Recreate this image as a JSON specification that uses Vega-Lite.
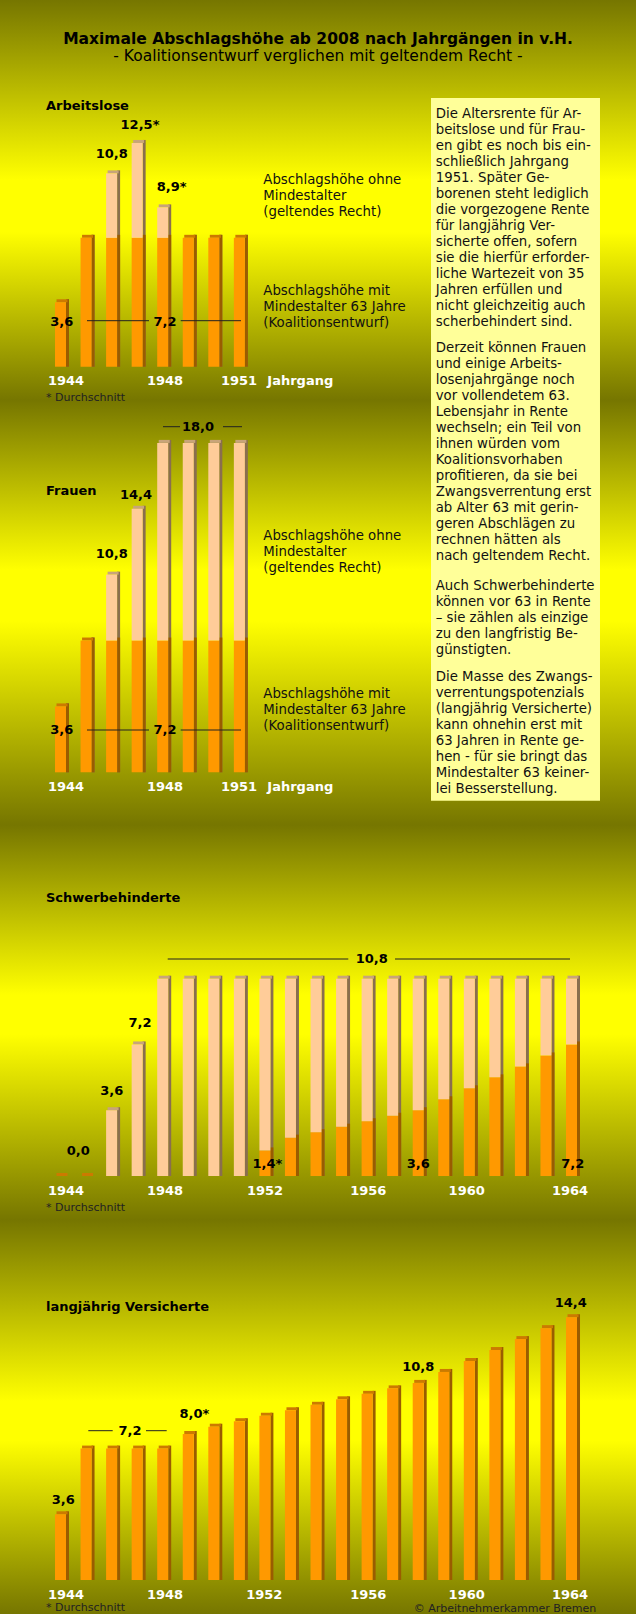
{
"$schema":"https://vega.github.io/schema/vega-lite/v6.json",
"padding":0,"spacing":0,"bounds":"flush","background":"#767600",
"config":{"font":"DejaVu Sans","view":{"stroke":null},"axis":{"disable":true},"concat":{"spacing":0},"scale":{"continuousPadding":0}},
"datasets":{
"arbeitslose":[{"jahrgang":1944,"mit":3.6,"ohne":3.6},{"jahrgang":1945,"mit":7.2,"ohne":7.2},{"jahrgang":1946,"mit":7.2,"ohne":10.8},{"jahrgang":1947,"mit":7.2,"ohne":12.5},{"jahrgang":1948,"mit":7.2,"ohne":8.9},{"jahrgang":1949,"mit":7.2,"ohne":7.2},{"jahrgang":1950,"mit":7.2,"ohne":7.2},{"jahrgang":1951,"mit":7.2,"ohne":7.2}],
"frauen":[{"jahrgang":1944,"mit":3.6,"ohne":3.6},{"jahrgang":1945,"mit":7.2,"ohne":7.2},{"jahrgang":1946,"mit":7.2,"ohne":10.8},{"jahrgang":1947,"mit":7.2,"ohne":14.4},{"jahrgang":1948,"mit":7.2,"ohne":18.0},{"jahrgang":1949,"mit":7.2,"ohne":18.0},{"jahrgang":1950,"mit":7.2,"ohne":18.0},{"jahrgang":1951,"mit":7.2,"ohne":18.0}],
"schwerbehinderte":[{"jahrgang":1944,"mit":0,"ohne":0},{"jahrgang":1945,"mit":0,"ohne":0},{"jahrgang":1946,"mit":0,"ohne":3.6},{"jahrgang":1947,"mit":0,"ohne":7.2},{"jahrgang":1948,"mit":0,"ohne":10.8},{"jahrgang":1949,"mit":0,"ohne":10.8},{"jahrgang":1950,"mit":0,"ohne":10.8},{"jahrgang":1951,"mit":0,"ohne":10.8},{"jahrgang":1952,"mit":1.4,"ohne":10.8},{"jahrgang":1953,"mit":2.1,"ohne":10.8},{"jahrgang":1954,"mit":2.4,"ohne":10.8},{"jahrgang":1955,"mit":2.7,"ohne":10.8},{"jahrgang":1956,"mit":3.0,"ohne":10.8},{"jahrgang":1957,"mit":3.3,"ohne":10.8},{"jahrgang":1958,"mit":3.6,"ohne":10.8},{"jahrgang":1959,"mit":4.2,"ohne":10.8},{"jahrgang":1960,"mit":4.8,"ohne":10.8},{"jahrgang":1961,"mit":5.4,"ohne":10.8},{"jahrgang":1962,"mit":6.0,"ohne":10.8},{"jahrgang":1963,"mit":6.6,"ohne":10.8},{"jahrgang":1964,"mit":7.2,"ohne":10.8}],
"versicherte":[{"jahrgang":1944,"mit":3.6,"ohne":3.6},{"jahrgang":1945,"mit":7.2,"ohne":7.2},{"jahrgang":1946,"mit":7.2,"ohne":7.2},{"jahrgang":1947,"mit":7.2,"ohne":7.2},{"jahrgang":1948,"mit":7.2,"ohne":7.2},{"jahrgang":1949,"mit":8.0,"ohne":8.0},{"jahrgang":1950,"mit":8.4,"ohne":8.4},{"jahrgang":1951,"mit":8.7,"ohne":8.7},{"jahrgang":1952,"mit":9.0,"ohne":9.0},{"jahrgang":1953,"mit":9.3,"ohne":9.3},{"jahrgang":1954,"mit":9.6,"ohne":9.6},{"jahrgang":1955,"mit":9.9,"ohne":9.9},{"jahrgang":1956,"mit":10.2,"ohne":10.2},{"jahrgang":1957,"mit":10.5,"ohne":10.5},{"jahrgang":1958,"mit":10.8,"ohne":10.8},{"jahrgang":1959,"mit":11.4,"ohne":11.4},{"jahrgang":1960,"mit":12.0,"ohne":12.0},{"jahrgang":1961,"mit":12.6,"ohne":12.6},{"jahrgang":1962,"mit":13.2,"ohne":13.2},{"jahrgang":1963,"mit":13.8,"ohne":13.8},{"jahrgang":1964,"mit":14.4,"ohne":14.4}]
},
"vconcat":[
{"width":636,"height":400,"data":{"name":"arbeitslose"},"layer":[
{"data":{"values":[{}]},"mark":{"type":"rect","fill":{"gradient":"linear","x1":0,"y1":0,"x2":0,"y2":1,"stops":[{"offset":0,"color":"#767600"},{"offset":0.45,"color":"#FFFF00"},{"offset":0.58,"color":"#FFFF00"},{"offset":1,"color":"#767600"}]}},"encoding":{"x":{"datum":1941.632,"type":"quantitative","scale":{"domain":[1941.632,1966.524],"nice":false,"zero":false,"padding":0}},"x2":{"datum":1966.524},"y":{"datum":20.486,"type":"quantitative","scale":{"domain":[-1.86,20.486],"nice":false,"zero":false,"padding":0}},"y2":{"datum":-1.86}}},
{"data":{"values":[{}]},"mark":{"type":"rect","fill":"#FFFF99"},"encoding":{"x":{"datum":1958.501},"x2":{"datum":1965.115},"y":{"datum":15.011},"y2":{"datum":-2}}},
{"transform":[{"filter":"datum.ohne > 0"}],"mark":{"type":"bar","size":3,"xOffset":7,"yOffset":-3,"color":"#8A6E4E"},"encoding":{"x":{"field":"jahrgang","type":"quantitative"},"y":{"field":"ohne","type":"quantitative"},"y2":{"datum":0}}},
{"transform":[{"filter":"datum.mit > 0"}],"mark":{"type":"bar","size":3,"xOffset":7,"yOffset":-3,"color":"#9A5C00"},"encoding":{"x":{"field":"jahrgang","type":"quantitative"},"y":{"field":"mit","type":"quantitative"},"y2":{"datum":0}}},
{"mark":{"type":"bar","size":11,"xOffset":1.5,"yOffset":-3},"encoding":{"x":{"field":"jahrgang","type":"quantitative"},"y":{"field":"ohne","type":"quantitative"},"y2":{"field":"ohne"},"color":{"condition":{"test":"datum.ohne > datum.mit","value":"#C8A47A"},"value":"#CC7A00"}}},
{"transform":[{"filter":"datum.mit > 0"}],"mark":{"type":"bar","size":11,"color":"#FF9900"},"encoding":{"x":{"field":"jahrgang","type":"quantitative","scale":{"domain":[1941.632,1966.524],"nice":false,"zero":false,"padding":0}},"y":{"field":"mit","type":"quantitative","scale":{"domain":[-1.86,20.486],"nice":false,"zero":false,"padding":0}},"y2":{"datum":0}}},
{"transform":[{"filter":"datum.ohne > datum.mit"}],"mark":{"type":"bar","size":11,"color":"#FFCC99"},"encoding":{"x":{"field":"jahrgang","type":"quantitative"},"y":{"field":"ohne","type":"quantitative"},"y2":{"field":"mit"}}},
{"data":{"values":[{}]},"mark":{"type":"rule","color":"#222222","strokeWidth":1},"encoding":{"x":{"datum":1945.037},"x2":{"datum":1947.464},"y":{"datum":2.57}}},
{"data":{"values":[{}]},"mark":{"type":"rule","color":"#222222","strokeWidth":1},"encoding":{"x":{"datum":1948.704},"x2":{"datum":1951.064},"y":{"datum":2.57}}},
{"data":{"values":[{}]},"mark":{"type":"text","fontSize":15.5,"fontWeight":"bold","align":"center","baseline":"middle","color":"#000000"},"encoding":{"x":{"datum":1954.078},"y":{"datum":18.335},"text":{"value":"Maximale Abschlagshöhe ab 2008 nach Jahrgängen in v.H."}}},
{"data":{"values":[{}]},"mark":{"type":"text","fontSize":15.5,"align":"center","baseline":"middle","color":"#000000"},"encoding":{"x":{"datum":1954.078},"y":{"datum":17.358},"text":{"value":"- Koalitionsentwurf verglichen mit geltendem Recht -"}}},
{"data":{"values":[{}]},"mark":{"type":"text","fontSize":13,"fontWeight":"bold","align":"left","baseline":"middle","color":"#000000"},"encoding":{"x":{"datum":1943.432},"y":{"datum":14.564},"text":{"value":"Arbeitslose"}}},
{"data":{"values":[{}]},"mark":{"type":"text","fontSize":13,"fontWeight":"bold","align":"center","baseline":"middle","color":"#000000"},"encoding":{"x":{"datum":1947.111},"y":{"datum":13.503},"text":{"value":"12,5*"}}},
{"data":{"values":[{}]},"mark":{"type":"text","fontSize":13,"fontWeight":"bold","align":"center","baseline":"middle","color":"#000000"},"encoding":{"x":{"datum":1946.004},"y":{"datum":11.883},"text":{"value":"10,8"}}},
{"data":{"values":[{}]},"mark":{"type":"text","fontSize":13,"fontWeight":"bold","align":"center","baseline":"middle","color":"#000000"},"encoding":{"x":{"datum":1948.352},"y":{"datum":10.056},"text":{"value":"8,9*"}}},
{"data":{"values":[{}]},"mark":{"type":"text","fontSize":13,"fontWeight":"bold","align":"center","baseline":"middle","color":"#000000"},"encoding":{"x":{"datum":1944.047},"y":{"datum":2.514},"text":{"value":"3,6"}}},
{"data":{"values":[{}]},"mark":{"type":"text","fontSize":13,"fontWeight":"bold","align":"center","baseline":"middle","color":"#000000"},"encoding":{"x":{"datum":1948.09},"y":{"datum":2.514},"text":{"value":"7,2"}}},
{"data":{"values":[{}]},"mark":{"type":"text","fontSize":13,"fontWeight":"bold","align":"center","baseline":"middle","color":"#FFFFFF"},"encoding":{"x":{"datum":1944.215},"y":{"datum":-0.782},"text":{"value":"1944"}}},
{"data":{"values":[{}]},"mark":{"type":"text","fontSize":13,"fontWeight":"bold","align":"center","baseline":"middle","color":"#FFFFFF"},"encoding":{"x":{"datum":1948.09},"y":{"datum":-0.782},"text":{"value":"1948"}}},
{"data":{"values":[{}]},"mark":{"type":"text","fontSize":13,"fontWeight":"bold","align":"center","baseline":"middle","color":"#FFFFFF"},"encoding":{"x":{"datum":1950.986},"y":{"datum":-0.782},"text":{"value":"1951"}}},
{"data":{"values":[{}]},"mark":{"type":"text","fontSize":13,"fontWeight":"bold","align":"left","baseline":"middle","color":"#FFFFFF"},"encoding":{"x":{"datum":1952.094},"y":{"datum":-0.782},"text":{"value":"Jahrgang"}}},
{"data":{"values":[{}]},"mark":{"type":"text","fontSize":13.3,"lineHeight":16,"align":"left","baseline":"alphabetic","color":"#111111"},"encoding":{"x":{"datum":1951.937},"y":{"datum":10.201},"text":{"value":["Abschlagshöhe ohne","Mindestalter","(geltendes Recht)"]}}},
{"data":{"values":[{}]},"mark":{"type":"text","fontSize":13.3,"lineHeight":16,"align":"left","baseline":"alphabetic","color":"#111111"},"encoding":{"x":{"datum":1951.937},"y":{"datum":3.978},"text":{"value":["Abschlagshöhe mit","Mindestalter 63 Jahre","(Koalitionsentwurf)"]}}},
{"data":{"values":[{}]},"mark":{"type":"text","fontSize":13.3,"lineHeight":16,"align":"left","baseline":"alphabetic","color":"#111111"},"encoding":{"x":{"datum":1958.685},"y":{"datum":13.888},"text":{"value":["Die Altersrente für Ar-","beitslose und für Frau-","en gibt es noch bis ein-","schließlich Jahrgang","1951. Später Ge-","borenen steht lediglich","die vorgezogene Rente","für langjährig Ver-","sicherte offen, sofern","sie die hierfür erforder-","liche Wartezeit von 35","Jahren erfüllen und","nicht gleichzeitig auch","scherbehindert sind."]}}},
{"data":{"values":[{}]},"mark":{"type":"text","fontSize":13.3,"lineHeight":16,"align":"left","baseline":"alphabetic","color":"#111111"},"encoding":{"x":{"datum":1958.685},"y":{"datum":0.799},"text":{"value":["Derzeit können Frauen","und einige Arbeits-","losenjahrgänge noch"]}}}
]},
{"width":636,"height":425,"data":{"name":"frauen"},"layer":[
{"data":{"values":[{}]},"mark":{"type":"rect","fill":{"gradient":"linear","x1":0,"y1":0,"x2":0,"y2":1,"stops":[{"offset":0,"color":"#767600"},{"offset":0.4,"color":"#FFFF00"},{"offset":0.52,"color":"#FFFF00"},{"offset":1,"color":"#767600"}]}},"encoding":{"x":{"datum":1941.632,"type":"quantitative","scale":{"domain":[1941.632,1966.524],"nice":false,"zero":false,"padding":0}},"x2":{"datum":1966.524},"y":{"datum":20.344,"type":"quantitative","scale":{"domain":[-2.88,20.344],"nice":false,"zero":false,"padding":0}},"y2":{"datum":-2.88}}},
{"data":{"values":[{}]},"mark":{"type":"rect","fill":"#FFFF99"},"encoding":{"x":{"datum":1958.501},"x2":{"datum":1965.115},"y":{"datum":20.344},"y2":{"datum":-1.552}}},
{"transform":[{"filter":"datum.ohne > 0"}],"mark":{"type":"bar","size":3,"xOffset":7,"yOffset":-3,"color":"#8A6E4E"},"encoding":{"x":{"field":"jahrgang","type":"quantitative"},"y":{"field":"ohne","type":"quantitative"},"y2":{"datum":0}}},
{"transform":[{"filter":"datum.mit > 0"}],"mark":{"type":"bar","size":3,"xOffset":7,"yOffset":-3,"color":"#9A5C00"},"encoding":{"x":{"field":"jahrgang","type":"quantitative"},"y":{"field":"mit","type":"quantitative"},"y2":{"datum":0}}},
{"mark":{"type":"bar","size":11,"xOffset":1.5,"yOffset":-3},"encoding":{"x":{"field":"jahrgang","type":"quantitative"},"y":{"field":"ohne","type":"quantitative"},"y2":{"field":"ohne"},"color":{"condition":{"test":"datum.ohne > datum.mit","value":"#C8A47A"},"value":"#CC7A00"}}},
{"transform":[{"filter":"datum.mit > 0"}],"mark":{"type":"bar","size":11,"color":"#FF9900"},"encoding":{"x":{"field":"jahrgang","type":"quantitative","scale":{"domain":[1941.632,1966.524],"nice":false,"zero":false,"padding":0}},"y":{"field":"mit","type":"quantitative","scale":{"domain":[-2.88,20.344],"nice":false,"zero":false,"padding":0}},"y2":{"datum":0}}},
{"transform":[{"filter":"datum.ohne > datum.mit"}],"mark":{"type":"bar","size":11,"color":"#FFCC99"},"encoding":{"x":{"field":"jahrgang","type":"quantitative"},"y":{"field":"ohne","type":"quantitative"},"y2":{"field":"mit"}}},
{"data":{"values":[{}]},"mark":{"type":"rule","color":"#222222","strokeWidth":1},"encoding":{"x":{"datum":1948.012},"x2":{"datum":1948.677},"y":{"datum":18.885}}},
{"data":{"values":[{}]},"mark":{"type":"rule","color":"#222222","strokeWidth":1},"encoding":{"x":{"datum":1950.36},"x2":{"datum":1951.104},"y":{"datum":18.885}}},
{"data":{"values":[{}]},"mark":{"type":"rule","color":"#222222","strokeWidth":1},"encoding":{"x":{"datum":1945.037},"x2":{"datum":1947.464},"y":{"datum":2.311}}},
{"data":{"values":[{}]},"mark":{"type":"rule","color":"#222222","strokeWidth":1},"encoding":{"x":{"datum":1948.704},"x2":{"datum":1951.064},"y":{"datum":2.311}}},
{"data":{"values":[{}]},"mark":{"type":"text","fontSize":11,"align":"left","baseline":"middle","color":"#222222"},"encoding":{"x":{"datum":1943.432},"y":{"datum":20.426},"text":{"value":"* Durchschnitt"}}},
{"data":{"values":[{}]},"mark":{"type":"text","fontSize":13,"fontWeight":"bold","align":"center","baseline":"middle","color":"#000000"},"encoding":{"x":{"datum":1949.382},"y":{"datum":18.885},"text":{"value":"18,0"}}},
{"data":{"values":[{}]},"mark":{"type":"text","fontSize":13,"fontWeight":"bold","align":"left","baseline":"middle","color":"#000000"},"encoding":{"x":{"datum":1943.432},"y":{"datum":15.388},"text":{"value":"Frauen"}}},
{"data":{"values":[{}]},"mark":{"type":"text","fontSize":13,"fontWeight":"bold","align":"center","baseline":"middle","color":"#000000"},"encoding":{"x":{"datum":1946.955},"y":{"datum":15.153},"text":{"value":"14,4"}}},
{"data":{"values":[{}]},"mark":{"type":"text","fontSize":13,"fontWeight":"bold","align":"center","baseline":"middle","color":"#000000"},"encoding":{"x":{"datum":1946.004},"y":{"datum":11.929},"text":{"value":"10,8"}}},
{"data":{"values":[{}]},"mark":{"type":"text","fontSize":13,"fontWeight":"bold","align":"center","baseline":"middle","color":"#000000"},"encoding":{"x":{"datum":1944.047},"y":{"datum":2.311},"text":{"value":"3,6"}}},
{"data":{"values":[{}]},"mark":{"type":"text","fontSize":13,"fontWeight":"bold","align":"center","baseline":"middle","color":"#000000"},"encoding":{"x":{"datum":1948.09},"y":{"datum":2.311},"text":{"value":"7,2"}}},
{"data":{"values":[{}]},"mark":{"type":"text","fontSize":13,"fontWeight":"bold","align":"center","baseline":"middle","color":"#FFFFFF"},"encoding":{"x":{"datum":1944.215},"y":{"datum":-0.787},"text":{"value":"1944"}}},
{"data":{"values":[{}]},"mark":{"type":"text","fontSize":13,"fontWeight":"bold","align":"center","baseline":"middle","color":"#FFFFFF"},"encoding":{"x":{"datum":1948.09},"y":{"datum":-0.787},"text":{"value":"1948"}}},
{"data":{"values":[{}]},"mark":{"type":"text","fontSize":13,"fontWeight":"bold","align":"center","baseline":"middle","color":"#FFFFFF"},"encoding":{"x":{"datum":1950.986},"y":{"datum":-0.787},"text":{"value":"1951"}}},
{"data":{"values":[{}]},"mark":{"type":"text","fontSize":13,"fontWeight":"bold","align":"left","baseline":"middle","color":"#FFFFFF"},"encoding":{"x":{"datum":1952.094},"y":{"datum":-0.787},"text":{"value":"Jahrgang"}}},
{"data":{"values":[{}]},"mark":{"type":"text","fontSize":13.3,"lineHeight":16,"align":"left","baseline":"alphabetic","color":"#111111"},"encoding":{"x":{"datum":1951.937},"y":{"datum":12.705},"text":{"value":["Abschlagshöhe ohne","Mindestalter","(geltendes Recht)"]}}},
{"data":{"values":[{}]},"mark":{"type":"text","fontSize":13.3,"lineHeight":16,"align":"left","baseline":"alphabetic","color":"#111111"},"encoding":{"x":{"datum":1951.937},"y":{"datum":4.055},"text":{"value":["Abschlagshöhe mit","Mindestalter 63 Jahre","(Koalitionsentwurf)"]}}},
{"data":{"values":[{}]},"mark":{"type":"text","fontSize":13.3,"lineHeight":16,"align":"left","baseline":"alphabetic","color":"#111111"},"encoding":{"x":{"datum":1958.685},"y":{"datum":20.317},"text":{"value":["vor vollendetem 63.","Lebensjahr in Rente","wechseln; ein Teil von","ihnen würden vom","Koalitionsvorhaben","profitieren, da sie bei","Zwangsverrentung erst","ab Alter 63 mit gerin-","geren Abschlägen zu","rechnen hätten als","nach geltendem Recht."]}}},
{"data":{"values":[{}]},"mark":{"type":"text","fontSize":13.3,"lineHeight":16,"align":"left","baseline":"alphabetic","color":"#111111"},"encoding":{"x":{"datum":1958.685},"y":{"datum":9.973},"text":{"value":["Auch Schwerbehinderte","können vor 63 in Rente","– sie zählen als einzige","zu den langfristig Be-","günstigten."]}}},
{"data":{"values":[{}]},"mark":{"type":"text","fontSize":13.3,"lineHeight":16,"align":"left","baseline":"alphabetic","color":"#111111"},"encoding":{"x":{"datum":1958.685},"y":{"datum":4.962},"text":{"value":["Die Masse des Zwangs-","verrentungspotenzials","(langjährig Versicherte)","kann ohnehin erst mit","63 Jahren in Rente ge-","hen - für sie bringt das","Mindestalter 63 keiner-","lei Besserstellung."]}}}
]},
{"width":636,"height":395,"data":{"name":"schwerbehinderte"},"layer":[
{"data":{"values":[{}]},"mark":{"type":"rect","fill":{"gradient":"linear","x1":0,"y1":0,"x2":0,"y2":1,"stops":[{"offset":0,"color":"#767600"},{"offset":0.43,"color":"#FFFF00"},{"offset":0.53,"color":"#FFFF00"},{"offset":1,"color":"#767600"}]}},"encoding":{"x":{"datum":1941.632,"type":"quantitative","scale":{"domain":[1941.632,1966.524],"nice":false,"zero":false,"padding":0}},"x2":{"datum":1966.524},"y":{"datum":19.212,"type":"quantitative","scale":{"domain":[-2.408,19.212],"nice":false,"zero":false,"padding":0}},"y2":{"datum":-2.408}}},
{"transform":[{"filter":"datum.ohne > 0"}],"mark":{"type":"bar","size":3,"xOffset":7,"yOffset":-3,"color":"#8A6E4E"},"encoding":{"x":{"field":"jahrgang","type":"quantitative"},"y":{"field":"ohne","type":"quantitative"},"y2":{"datum":0}}},
{"transform":[{"filter":"datum.mit > 0"}],"mark":{"type":"bar","size":3,"xOffset":7,"yOffset":-3,"color":"#9A5C00"},"encoding":{"x":{"field":"jahrgang","type":"quantitative"},"y":{"field":"mit","type":"quantitative"},"y2":{"datum":0}}},
{"mark":{"type":"bar","size":11,"xOffset":1.5,"yOffset":-3},"encoding":{"x":{"field":"jahrgang","type":"quantitative"},"y":{"field":"ohne","type":"quantitative"},"y2":{"field":"ohne"},"color":{"condition":{"test":"datum.ohne > datum.mit","value":"#C8A47A"},"value":"#CC7A00"}}},
{"transform":[{"filter":"datum.mit > 0"}],"mark":{"type":"bar","size":11,"color":"#FF9900"},"encoding":{"x":{"field":"jahrgang","type":"quantitative","scale":{"domain":[1941.632,1966.524],"nice":false,"zero":false,"padding":0}},"y":{"field":"mit","type":"quantitative","scale":{"domain":[-2.408,19.212],"nice":false,"zero":false,"padding":0}},"y2":{"datum":0}}},
{"transform":[{"filter":"datum.ohne > datum.mit"}],"mark":{"type":"bar","size":11,"color":"#FFCC99"},"encoding":{"x":{"field":"jahrgang","type":"quantitative"},"y":{"field":"ohne","type":"quantitative"},"y2":{"field":"mit"}}},
{"data":{"values":[{}]},"mark":{"type":"rule","color":"#222222","strokeWidth":1},"encoding":{"x":{"datum":1948.196},"x2":{"datum":1955.264},"y":{"datum":11.877}}},
{"data":{"values":[{}]},"mark":{"type":"rule","color":"#222222","strokeWidth":1},"encoding":{"x":{"datum":1957.092},"x2":{"datum":1963.941},"y":{"datum":11.877}}},
{"data":{"values":[{}]},"mark":{"type":"text","fontSize":13,"fontWeight":"bold","align":"left","baseline":"middle","color":"#000000"},"encoding":{"x":{"datum":1943.432},"y":{"datum":15.2},"text":{"value":"Schwerbehinderte"}}},
{"data":{"values":[{}]},"mark":{"type":"text","fontSize":13,"fontWeight":"bold","align":"center","baseline":"middle","color":"#000000"},"encoding":{"x":{"datum":1944.697},"y":{"datum":1.385},"text":{"value":"0,0"}}},
{"data":{"values":[{}]},"mark":{"type":"text","fontSize":13,"fontWeight":"bold","align":"center","baseline":"middle","color":"#000000"},"encoding":{"x":{"datum":1946.004},"y":{"datum":4.669},"text":{"value":"3,6"}}},
{"data":{"values":[{}]},"mark":{"type":"text","fontSize":13,"fontWeight":"bold","align":"center","baseline":"middle","color":"#000000"},"encoding":{"x":{"datum":1947.111},"y":{"datum":8.391},"text":{"value":"7,2"}}},
{"data":{"values":[{}]},"mark":{"type":"text","fontSize":13,"fontWeight":"bold","align":"center","baseline":"middle","color":"#000000"},"encoding":{"x":{"datum":1956.18},"y":{"datum":11.877},"text":{"value":"10,8"}}},
{"data":{"values":[{}]},"mark":{"type":"text","fontSize":13,"fontWeight":"bold","align":"center","baseline":"middle","color":"#000000"},"encoding":{"x":{"datum":1952.094},"y":{"datum":0.657},"text":{"value":"1,4*"}}},
{"data":{"values":[{}]},"mark":{"type":"text","fontSize":13,"fontWeight":"bold","align":"center","baseline":"middle","color":"#000000"},"encoding":{"x":{"datum":1958.004},"y":{"datum":0.64},"text":{"value":"3,6"}}},
{"data":{"values":[{}]},"mark":{"type":"text","fontSize":13,"fontWeight":"bold","align":"center","baseline":"middle","color":"#000000"},"encoding":{"x":{"datum":1964.047},"y":{"datum":0.657},"text":{"value":"7,2"}}},
{"data":{"values":[{}]},"mark":{"type":"text","fontSize":13,"fontWeight":"bold","align":"center","baseline":"middle","color":"#FFFFFF"},"encoding":{"x":{"datum":1944.215},"y":{"datum":-0.805},"text":{"value":"1944"}}},
{"data":{"values":[{}]},"mark":{"type":"text","fontSize":13,"fontWeight":"bold","align":"center","baseline":"middle","color":"#FFFFFF"},"encoding":{"x":{"datum":1948.09},"y":{"datum":-0.805},"text":{"value":"1948"}}},
{"data":{"values":[{}]},"mark":{"type":"text","fontSize":13,"fontWeight":"bold","align":"center","baseline":"middle","color":"#FFFFFF"},"encoding":{"x":{"datum":1952.004},"y":{"datum":-0.805},"text":{"value":"1952"}}},
{"data":{"values":[{}]},"mark":{"type":"text","fontSize":13,"fontWeight":"bold","align":"center","baseline":"middle","color":"#FFFFFF"},"encoding":{"x":{"datum":1956.047},"y":{"datum":-0.805},"text":{"value":"1956"}}},
{"data":{"values":[{}]},"mark":{"type":"text","fontSize":13,"fontWeight":"bold","align":"center","baseline":"middle","color":"#FFFFFF"},"encoding":{"x":{"datum":1959.898},"y":{"datum":-0.805},"text":{"value":"1960"}}},
{"data":{"values":[{}]},"mark":{"type":"text","fontSize":13,"fontWeight":"bold","align":"center","baseline":"middle","color":"#FFFFFF"},"encoding":{"x":{"datum":1963.941},"y":{"datum":-0.805},"text":{"value":"1964"}}},
{"data":{"values":[{}]},"mark":{"type":"text","fontSize":11,"align":"left","baseline":"middle","color":"#222222"},"encoding":{"x":{"datum":1943.432},"y":{"datum":-1.752},"text":{"value":"* Durchschnitt"}}}
]},
{"width":636,"height":394,"data":{"name":"versicherte"},"layer":[
{"data":{"values":[{}]},"mark":{"type":"rect","fill":{"gradient":"linear","x1":0,"y1":0,"x2":0,"y2":1,"stops":[{"offset":0,"color":"#767600"},{"offset":0.46,"color":"#FFFF00"},{"offset":0.56,"color":"#FFFF00"},{"offset":1,"color":"#767600"}]}},"encoding":{"x":{"datum":1941.632,"type":"quantitative","scale":{"domain":[1941.632,1966.524],"nice":false,"zero":false,"padding":0}},"x2":{"datum":1966.524},"y":{"datum":19.726,"type":"quantitative","scale":{"domain":[-1.863,19.726],"nice":false,"zero":false,"padding":0}},"y2":{"datum":-1.863}}},
{"transform":[{"filter":"datum.mit > 0"}],"mark":{"type":"bar","size":3,"xOffset":7,"yOffset":-3,"color":"#9A5C00"},"encoding":{"x":{"field":"jahrgang","type":"quantitative"},"y":{"field":"mit","type":"quantitative"},"y2":{"datum":0}}},
{"mark":{"type":"bar","size":11,"xOffset":1.5,"yOffset":-3},"encoding":{"x":{"field":"jahrgang","type":"quantitative"},"y":{"field":"ohne","type":"quantitative"},"y2":{"field":"ohne"},"color":{"condition":{"test":"datum.ohne > datum.mit","value":"#C8A47A"},"value":"#CC7A00"}}},
{"transform":[{"filter":"datum.mit > 0"}],"mark":{"type":"bar","size":11,"color":"#FF9900"},"encoding":{"x":{"field":"jahrgang","type":"quantitative","scale":{"domain":[1941.632,1966.524],"nice":false,"zero":false,"padding":0}},"y":{"field":"mit","type":"quantitative","scale":{"domain":[-1.863,19.726],"nice":false,"zero":false,"padding":0}},"y2":{"datum":0}}},
{"data":{"values":[{}]},"mark":{"type":"rule","color":"#222222","strokeWidth":1},"encoding":{"x":{"datum":1945.088},"x2":{"datum":1946.043},"y":{"datum":8.181}}},
{"data":{"values":[{}]},"mark":{"type":"rule","color":"#222222","strokeWidth":1},"encoding":{"x":{"datum":1947.346},"x2":{"datum":1948.156},"y":{"datum":8.181}}},
{"data":{"values":[{}]},"mark":{"type":"text","fontSize":13,"fontWeight":"bold","align":"left","baseline":"middle","color":"#000000"},"encoding":{"x":{"datum":1943.432},"y":{"datum":14.942},"text":{"value":"langjährig Versicherte"}}},
{"data":{"values":[{}]},"mark":{"type":"text","fontSize":13,"fontWeight":"bold","align":"center","baseline":"middle","color":"#000000"},"encoding":{"x":{"datum":1944.109},"y":{"datum":4.384},"text":{"value":"3,6"}}},
{"data":{"values":[{}]},"mark":{"type":"text","fontSize":13,"fontWeight":"bold","align":"center","baseline":"middle","color":"#000000"},"encoding":{"x":{"datum":1946.72},"y":{"datum":8.181},"text":{"value":"7,2"}}},
{"data":{"values":[{}]},"mark":{"type":"text","fontSize":13,"fontWeight":"bold","align":"center","baseline":"middle","color":"#000000"},"encoding":{"x":{"datum":1949.237},"y":{"datum":9.079},"text":{"value":"8,0*"}}},
{"data":{"values":[{}]},"mark":{"type":"text","fontSize":13,"fontWeight":"bold","align":"center","baseline":"middle","color":"#000000"},"encoding":{"x":{"datum":1958.004},"y":{"datum":11.688},"text":{"value":"10,8"}}},
{"data":{"values":[{}]},"mark":{"type":"text","fontSize":13,"fontWeight":"bold","align":"center","baseline":"middle","color":"#000000"},"encoding":{"x":{"datum":1963.968},"y":{"datum":15.162},"text":{"value":"14,4"}}},
{"data":{"values":[{}]},"mark":{"type":"text","fontSize":13,"fontWeight":"bold","align":"center","baseline":"middle","color":"#FFFFFF"},"encoding":{"x":{"datum":1944.215},"y":{"datum":-0.822},"text":{"value":"1944"}}},
{"data":{"values":[{}]},"mark":{"type":"text","fontSize":13,"fontWeight":"bold","align":"center","baseline":"middle","color":"#FFFFFF"},"encoding":{"x":{"datum":1948.09},"y":{"datum":-0.822},"text":{"value":"1948"}}},
{"data":{"values":[{}]},"mark":{"type":"text","fontSize":13,"fontWeight":"bold","align":"center","baseline":"middle","color":"#FFFFFF"},"encoding":{"x":{"datum":1951.976},"y":{"datum":-0.822},"text":{"value":"1952"}}},
{"data":{"values":[{}]},"mark":{"type":"text","fontSize":13,"fontWeight":"bold","align":"center","baseline":"middle","color":"#FFFFFF"},"encoding":{"x":{"datum":1956.047},"y":{"datum":-0.822},"text":{"value":"1956"}}},
{"data":{"values":[{}]},"mark":{"type":"text","fontSize":13,"fontWeight":"bold","align":"center","baseline":"middle","color":"#FFFFFF"},"encoding":{"x":{"datum":1959.898},"y":{"datum":-0.822},"text":{"value":"1960"}}},
{"data":{"values":[{}]},"mark":{"type":"text","fontSize":13,"fontWeight":"bold","align":"center","baseline":"middle","color":"#FFFFFF"},"encoding":{"x":{"datum":1963.941},"y":{"datum":-0.822},"text":{"value":"1964"}}},
{"data":{"values":[{}]},"mark":{"type":"text","fontSize":11,"align":"left","baseline":"middle","color":"#222222"},"encoding":{"x":{"datum":1943.432},"y":{"datum":-1.551},"text":{"value":"* Durchschnitt"}}},
{"data":{"values":[{}]},"mark":{"type":"text","fontSize":11,"align":"center","baseline":"middle","color":"#222222"},"encoding":{"x":{"datum":1961.397},"y":{"datum":-1.605},"text":{"value":"© Arbeitnehmerkammer Bremen"}}}
]}
]
}
